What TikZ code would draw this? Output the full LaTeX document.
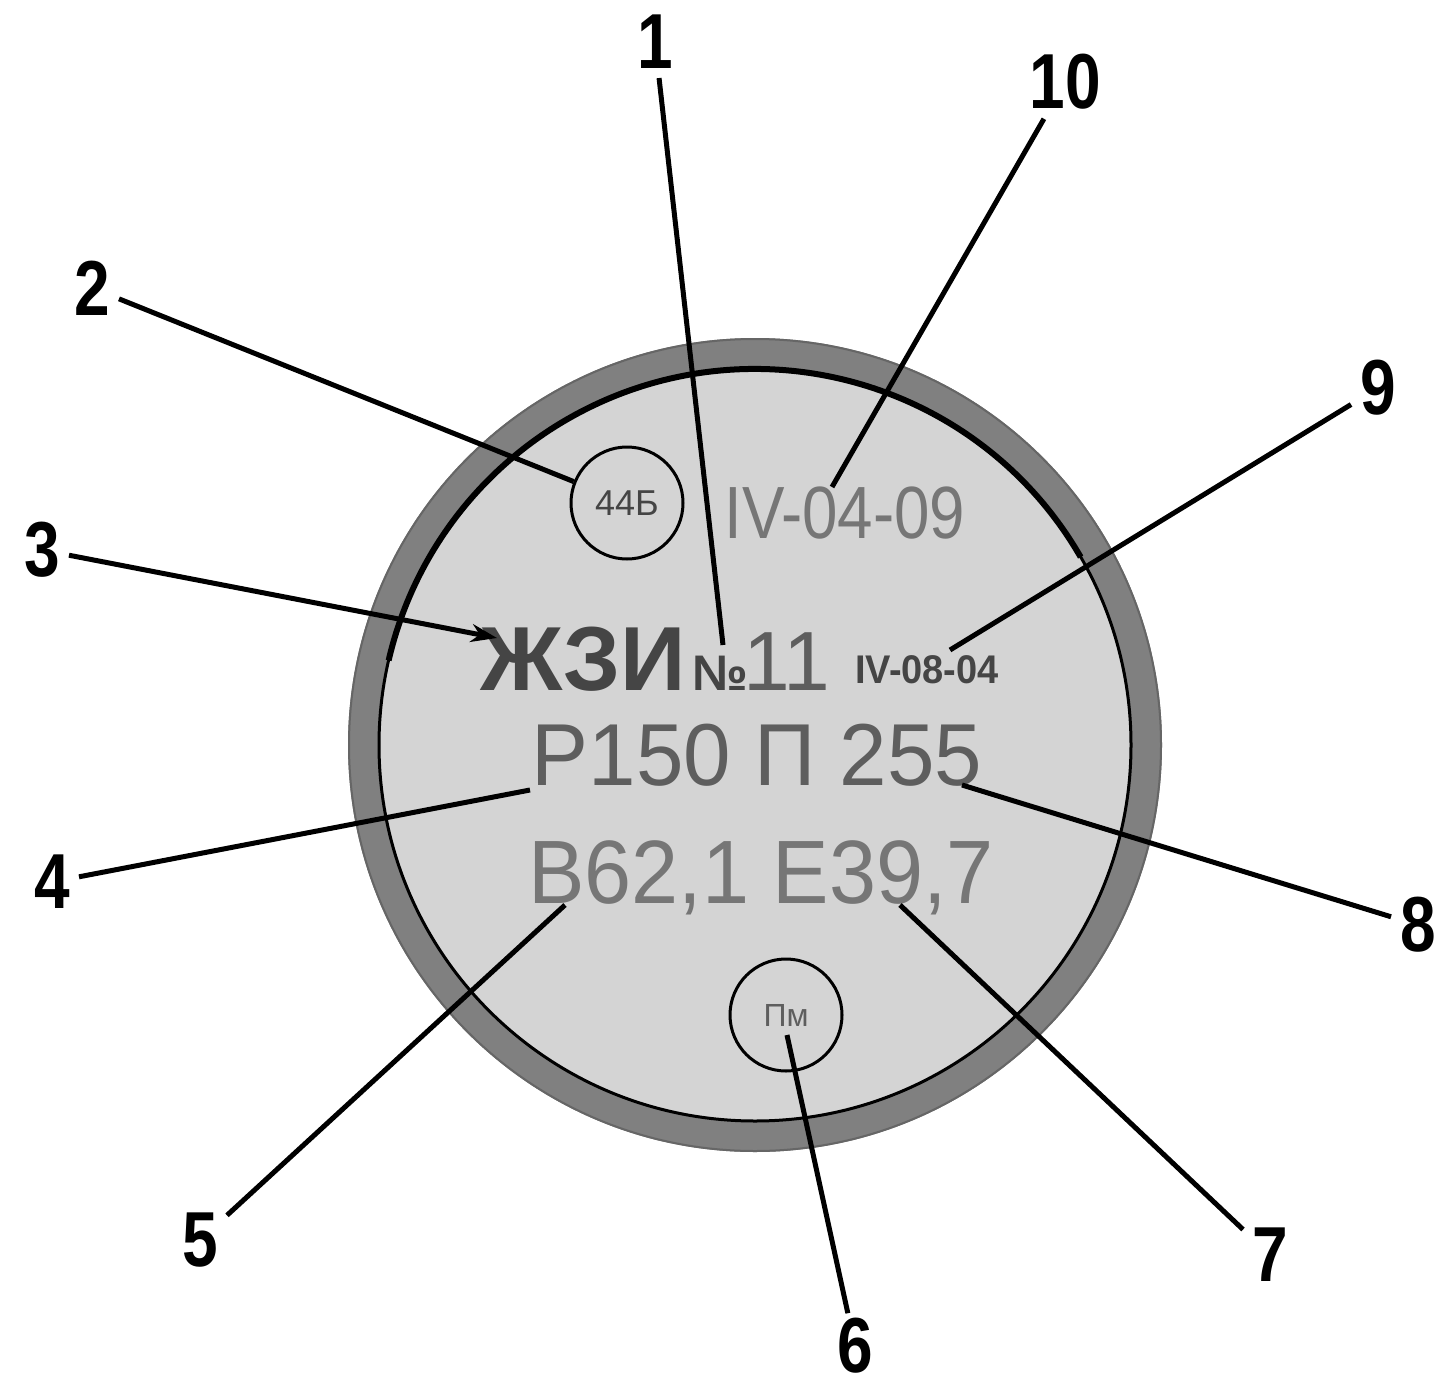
\documentclass[tikz,border=0pt]{standalone}
\usepackage{fontspec}
\setmainfont{Liberation Sans}
\usetikzlibrary{arrows.meta}
\definecolor{ringgray}{HTML}{808080}
\definecolor{diskgray}{HTML}{D4D4D4}
\definecolor{inkdark}{HTML}{454545}
\definecolor{inkmid}{HTML}{5E5E5E}
\definecolor{inklight}{HTML}{767676}
\newcommand{\fsz}[1]{\fontsize{#1}{#1}\selectfont}

\begin{document}
\begin{tikzpicture}[x=1pt,y=-1pt,>=Stealth,
  num/.style={font=\fsz{78}\bfseries,inner sep=9pt},
  lead/.style={line width=5pt},
  stamp/.style={draw,circle,line width=3pt,minimum size=112pt,inner sep=0pt}]
\useasboundingbox (0,0) rectangle (1445,1391);
% wheel face
\fill[ringgray] (755,745) circle[radius=407];
\draw[line width=2pt,black!60] (755,745) circle[radius=406];
\fill[diskgray] (755,745) circle[radius=376];
\draw[line width=3pt] (755,745) circle[radius=376];
\draw[line width=6pt] (755,745) ++(-30:376) arc[start angle=-30,end angle=-167,radius=376];
% marks
\node[anchor=base,text=inklight,inner sep=0pt] (date) at (845,538) {\fsz{74}\scalebox{0.86}[1]{IV-04-09}};
\node[anchor=base west,text=inkdark,inner sep=0pt] (plant) at (480,690) {\fsz{91}\bfseries ЖЗИ};
\node[anchor=base west,text=inkdark,inner sep=0pt] (numsign) at (692,690) {\fsz{50}\bfseries №};
\node[anchor=base west,text=inkmid,inner sep=0pt] (melt) at (743,690) {\fsz{84}11};
\node[anchor=base west,text=inkdark,inner sep=0pt] (form) at (855,683) {\fsz{40}\bfseries\scalebox{0.95}[1]{IV-08-04}};
\node[anchor=base,text=inkmid,inner sep=0pt] (rim) at (757,785) {\fsz{88}\scalebox{0.97}[1]{Р150 П 255}};
\node[anchor=base,text=inklight,inner sep=0pt] (width) at (761,903) {\fsz{90}\scalebox{0.94}[1]{В62,1 Е39,7}};
\node[stamp] (stampa) at (627,503) {\fsz{36}\color{inkdark}44Б};
\node[stamp] (stampb) at (786,1015) {\fsz{32}\color{inkmid}Пм};
% leader ends
\coordinate (t1) at (723,645);
\coordinate (t3) at (497,638);
\coordinate (t4) at (530,790);
\coordinate (t5) at (565,905);
\coordinate (t6) at (787,1035);
\coordinate (t7) at (900,905);
\coordinate (t8) at (962,785);
\coordinate (t9) at (950,650);
\coordinate (t10) at (832,487);
% numbers
\node[num] (n1) at (655,42) {\scalebox{0.82}[1]{1}};
\node[num] (n2) at (92,288) {\scalebox{0.82}[1]{2}};
\node[num] (n3) at (42,550) {\scalebox{0.82}[1]{3}};
\node[num] (n4) at (52,882) {\scalebox{0.82}[1]{4}};
\node[num] (n5) at (200,1240) {\scalebox{0.82}[1]{5}};
\node[num,inner sep=5pt] (n6) at (855,1346) {\scalebox{0.82}[1]{6}};
\node[num] (n7) at (1270,1255) {\scalebox{0.82}[1]{7}};
\node[num] (n8) at (1418,925) {\scalebox{0.82}[1]{8}};
\node[num] (n9) at (1378,388) {\scalebox{0.82}[1]{9}};
\node[num] (n10) at (1065,82) {\scalebox{0.82}[1]{10}};
\draw[lead] (n1) -- (t1);
\draw[lead] (n2) -- (stampa);
\draw[lead,-{Stealth[length=26pt,width=18pt]}] (n3) -- (t3);
\draw[lead] (n4) -- (t4);
\draw[lead] (n5) -- (t5);
\draw[lead] (n6) -- (t6);
\draw[lead] (n7) -- (t7);
\draw[lead] (n8) -- (t8);
\draw[lead] (n9) -- (t9);
\draw[lead] (n10) -- (t10);
\end{tikzpicture}
\end{document}
